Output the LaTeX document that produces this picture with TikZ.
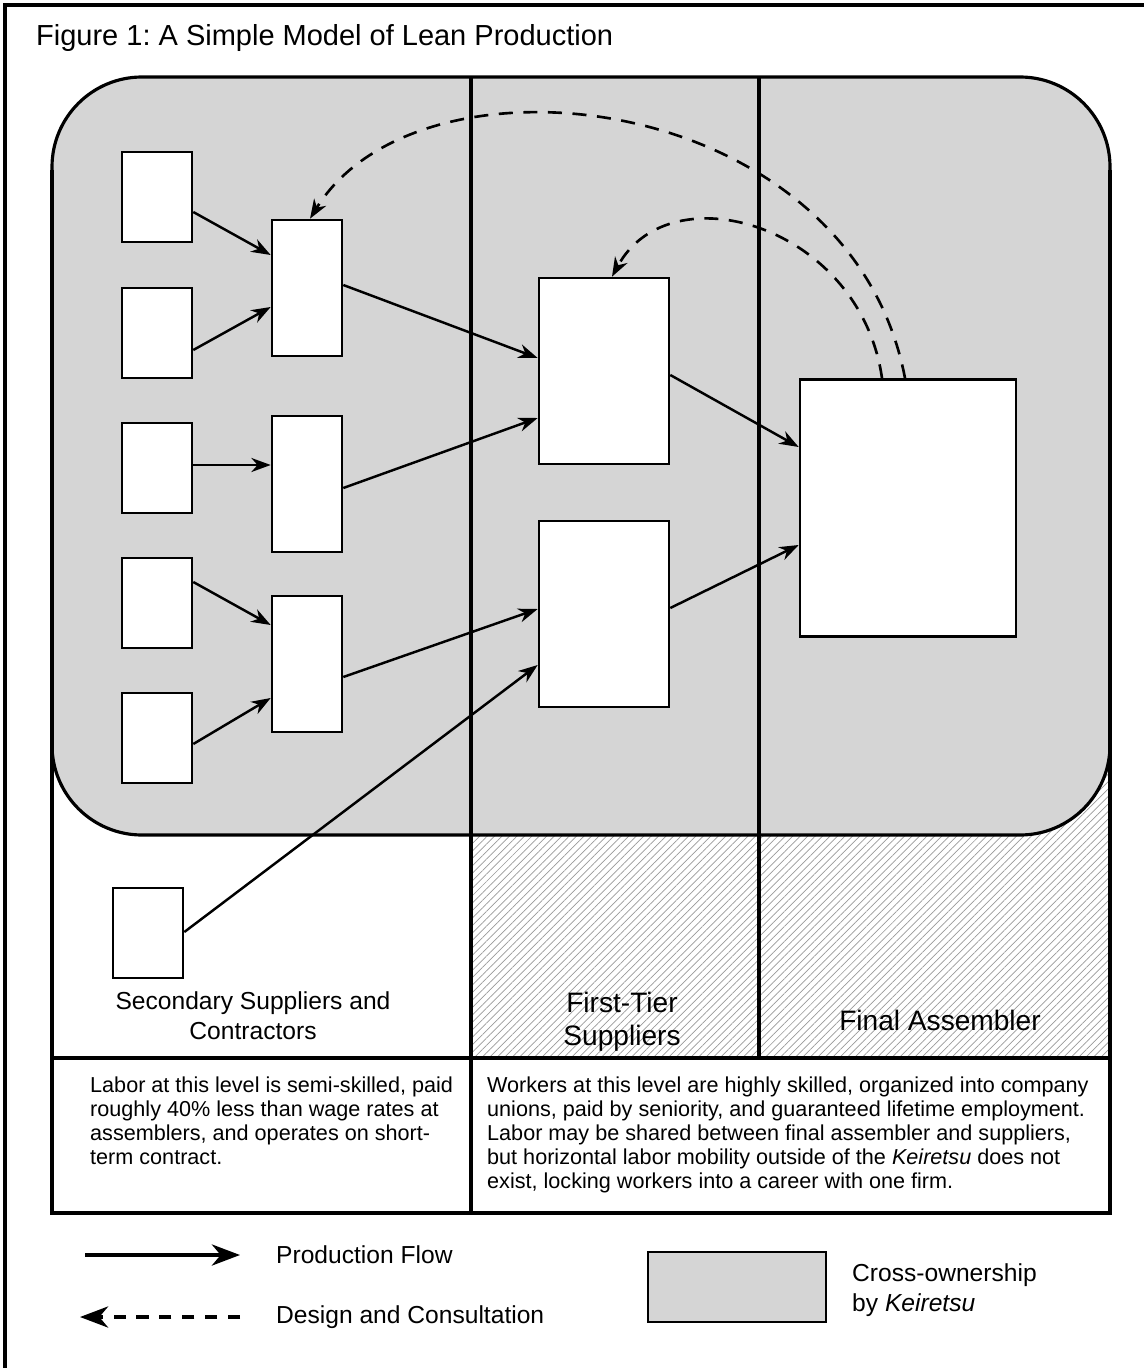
\documentclass[tikz,border=0pt]{standalone}
\usepackage{fontspec}
\setmainfont{Liberation Sans}
\usetikzlibrary{arrows.meta,calc,patterns.meta}
\frenchspacing

\begin{document}
\begin{tikzpicture}[
    x=0.02cm, y=-0.02cm,
    firm/.style={draw, fill=white, line width=1.5pt, inner sep=0pt},
    leafbox/.style={firm, minimum width=1.4cm, minimum height=1.8cm},
    midbox/.style={firm, minimum width=1.4cm, minimum height=2.72cm},
    tierbox/.style={firm, minimum width=2.6cm, minimum height=3.72cm},
    finalbox/.style={firm, minimum width=4.32cm, minimum height=5.14cm},
    flow/.style={-{Stealth[length=11pt,width=8pt,inset=3.5pt]}, line width=1.4pt},
    design/.style={-{Stealth[length=11pt,width=8pt,inset=3.5pt]}, line width=1.5pt,
                   dash pattern=on 8pt off 6pt},
    divider/.style={line width=1.8pt},
    head/.style={font=\fontsize{16}{19}\selectfont, align=center},
    body/.style={font=\fontsize{12.3}{13.6}\selectfont, align=left, anchor=north west},
    keytext/.style={font=\fontsize{14}{17}\selectfont, align=left, anchor=west}
]
    \useasboundingbox (0,0) rectangle (1144,1368);
    % frame and title
    \draw[line width=1.8pt] (5,1368) -- (5,5) -- (1144,5);
    \node[anchor=west, font=\fontsize{16.5}{19}\selectfont] (title) at (30,38)
        {Figure 1: A Simple Model of Lean Production};

    % Keiretsu area and table
    \fill[pattern={Lines[angle=45,distance=3pt,line width=0.4pt]}, pattern color=gray!80]
        (471,740) rectangle (1110,1058);
    \draw[divider, fill=gray!33, rounded corners=1.8cm] (52,77) rectangle (1110,835);
    \draw[divider] (52,170) -- (52,1213) -- (1110,1213) -- (1110,170);
    \draw[divider] (52,1058) -- (1110,1058);
    \draw[divider] (471,77) -- (471,1213);
    \draw[divider] (759,77) -- (759,1058);

    % Secondary suppliers
    \node[leafbox] (a1) at (157,197) {};
    \node[leafbox] (a2) at (157,333) {};
    \node[leafbox] (a3) at (157,468) {};
    \node[leafbox] (a4) at (157,603) {};
    \node[leafbox] (a5) at (157,738) {};
    \node[midbox] (b1) at (307,288) {};
    \node[midbox] (b2) at (307,484) {};
    \node[midbox] (b3) at (307,664) {};
    \node[leafbox] (lone) at (148,933) {};
    % First-tier suppliers
    \node[tierbox] (c1) at (604,371) {};
    \node[tierbox] (c2) at (604,614) {};
    % Final assembler
    \node[finalbox] (fa) at (908,508) {};

    % Production flow
    \draw[flow] ($(a1.east)+(0,15)$) -- ($(b1.west)+(0,-33)$);
    \draw[flow] ($(a2.east)+(0,17)$) -- ($(b1.west)+(0,19)$);
    \draw[flow] ($(a3.east)+(0,-3)$) -- ($(b2.west)+(0,-19)$);
    \draw[flow] ($(a4.east)+(0,-21)$) -- ($(b3.west)+(0,-39)$);
    \draw[flow] ($(a5.east)+(0,6)$) -- ($(b3.west)+(0,34)$);
    \draw[flow] ($(b1.east)+(0,-3)$) -- ($(c1.west)+(0,-13)$);
    \draw[flow] ($(b2.east)+(0,4)$) -- ($(c1.west)+(0,47)$);
    \draw[flow] ($(b3.east)+(0,13)$) -- ($(c2.west)+(0,-5)$);
    \draw[flow] ($(lone.east)+(0,-1)$) -- ($(c2.west)+(0,51)$);
    \draw[flow] ($(c1.east)+(0,4)$) -- ($(fa.west)+(0,-61)$);
    \draw[flow] ($(c2.east)+(0,-6)$) -- ($(fa.west)+(0,37)$);

    % Design and consultation
    \draw[design] ($(fa.north)+(-3,0)$) .. controls (850,90) and (420,40) .. ($(b1.north)+(3,0)$);
    \draw[design] ($(fa.north)+(-26,0)$) .. controls (860,225) and (670,170) .. ($(c1.north)+(8,0)$);

    % column heads
    \node[head, font=\fontsize{14}{17}\selectfont] (sechead) at (253,1016)
        {Secondary Suppliers and\\Contractors};
    \node[head] (tierhead) at (622,1022) {First-Tier\\Suppliers};
    \node[head] (finalhead) at (940,1020) {Final Assembler};

    % labor notes
    \node[body] (secnote) at (84,1071)
        {Labor at this level is semi-skilled, paid\\roughly 40\% less than wage rates at\\assemblers, and operates on short-\\term contract.};
    \node[body] (keinote) at (481,1071)
        {Workers at this level are highly skilled, organized into company\\unions, paid by seniority, and guaranteed lifetime employment.\\Labor may be shared between final assembler and suppliers,\\but horizontal labor mobility outside of the \textit{Keiretsu} does not\\exist, locking workers into a career with one firm.};

    % legend
    \coordinate (pf1) at (85,1255);
    \coordinate (pf2) at (240,1255);
    \coordinate (dc1) at (240,1317);
    \coordinate (dc2) at (80,1317);
    \draw[-{Stealth[length=16pt,width=12pt,inset=5pt]}, line width=2.2pt] (pf1) -- (pf2);
    \draw[-{Stealth[length=16pt,width=12pt,inset=5pt]}, line width=2.2pt,
          dash pattern=on 7pt off 6pt] (dc1) -- (dc2);
    \node[keytext] (pflab) at (270,1255) {Production Flow};
    \node[keytext] (dclab) at (270,1317) {Design and Consultation};
    \node[draw, line width=1.3pt, fill=gray!33, minimum width=3.56cm, minimum height=1.4cm]
        (keybox) at (737,1287) {};
    \node[keytext] (kbox) at (846,1290) {Cross-ownership\\by \textit{Keiretsu}};
\end{tikzpicture}
\end{document}
